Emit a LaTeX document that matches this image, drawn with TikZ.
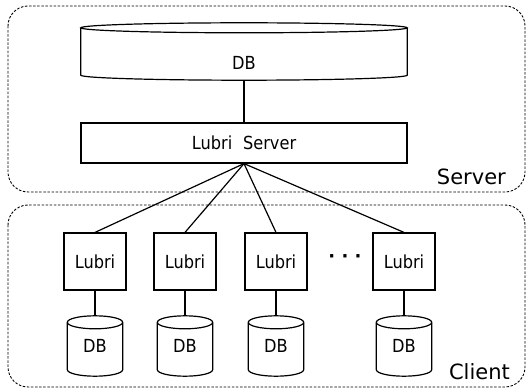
\documentclass[tikz,border=0pt]{standalone}
\usepackage{fontspec}
\setmainfont{DejaVu Sans}
\newfontfamily\boxfont[FakeStretch=0.9]{DejaVu Sans}
\usetikzlibrary{calc}
\tikzset{
  line/.style={line width=1.2pt},
  box/.style={draw, line width=1.2pt, inner sep=0pt,
    font=\boxfont\fontsize{18}{21}\selectfont},
  cylbox/.style={inner sep=0pt, font=\boxfont\fontsize{18}{21}\selectfont},
  boxtext/.style={inner sep=0pt, font=\boxfont\fontsize{18}{21}\selectfont},
  zone/.style={draw, line width=0.9pt, dash pattern=on 2.5pt off 1.6pt,
    rounded corners=20pt},
  zonelabel/.style={inner sep=0pt, anchor=base east,
    font=\fontsize{21}{25}\selectfont},
}
\begin{document}
\begin{tikzpicture}[x=1pt,y=-1pt]
\useasboundingbox (0,0) rectangle (530,390);

% server and client zones
\draw[zone] (8,6) rectangle (525,192);
\draw[zone] (8,205) rectangle (525,387);
\node[zonelabel] (serverlbl) at (506,185) {Server};
\node[zonelabel] (clientlbl) at (510,379) {Client};

% central database and server
\node[cylbox, minimum width=326pt, minimum height=57pt] (dbs) at (244,51.5) {};
\node[boxtext] (dbstext) at ($(dbs.center)+(0,11)$) {DB};
\node[box, minimum width=326pt, minimum height=40pt] (srv) at (244,143)
  {Lubri\hspace{0.6em}Server};
\draw[line] (dbs.south) -- (srv.north);

% clients, each with its local database
\foreach \i/\x in {1/95,2/185,3/276,4/404}{
  \node[box, minimum width=62pt, minimum height=57pt] (l\i) at (\x,261.5) {Lubri};
  \node[cylbox, minimum width=55pt, minimum height=60pt] (c\i) at (\x,346) {DB};
  \draw[line] (srv.south) -- (l\i.north);
  \draw[line] (l\i.south) -- (c\i.north);
}
\node[inner sep=0pt, font=\bfseries\fontsize{18}{21}\selectfont] (dots) at (345,259) {· · ·};

% cylinder outlines around the database nodes
\foreach \cyl/\rr in {dbs/5pt,c1/6.5pt,c2/6.5pt,c3/6.5pt,c4/6.5pt}{
  \draw[line] let \p1=(\cyl.north west), \p2=(\cyl.south east) in
    (\x1,{\y1-\rr}) -- (\x1,{\y2+\rr})
    arc[start angle=180, end angle=360, x radius={(\x2-\x1)/2}, y radius=\rr]
    -- (\x2,{\y1-\rr})
    ({(\x1+\x2)/2},{\y1-\rr}) ellipse[x radius={(\x2-\x1)/2}, y radius=\rr];
}
\end{tikzpicture}
\end{document}
